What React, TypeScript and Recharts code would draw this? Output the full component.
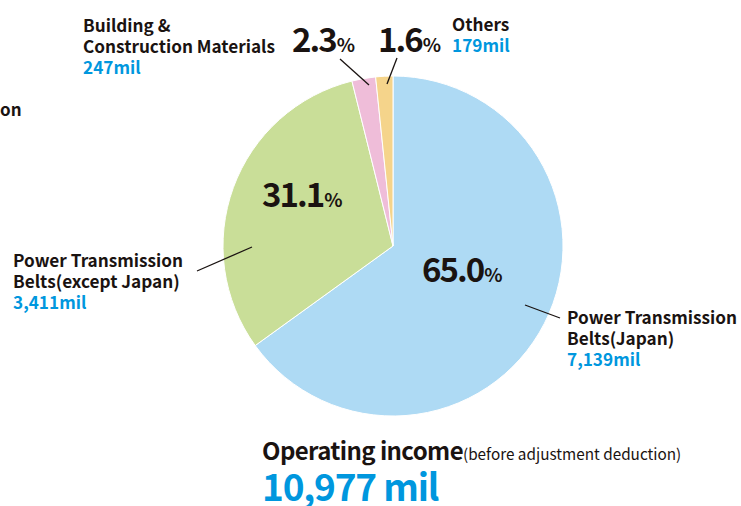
import { PieChart, Pie, Cell } from "recharts"

const segmentNames = [
  ["Power Transmission", "Belts(Japan)"],
  ["Power Transmission", "Belts(except Japan)"],
  ["Building &", "Construction Materials"],
  ["Others"],
]
const segmentValues = [7139, 3411, 247, 179]
const percentLabels = ["65.0", "31.1", "2.3", "1.6"]
const valueLabels = ["7,139mil", "3,411mil", "247mil", "179mil"]
const totalLabel = "10,977 mil"

const colors = ["#AEDAF4", "#C9DE98", "#EFBDD9", "#F5D48B"]
const FONT = "'Noto Sans CJK JP', 'Noto Sans', sans-serif"
const BLUE = "#0097DE"
const INK = "#1a1311"

const CX = 393
const CY = 246
const R = 170

// label placement, offsets from the pie centre
const layout = [
  { pct: [29, 36], name: [174, 78], line: [132, 59, 167, 72] },
  { pct: [-131, -39], name: [-380, 21], line: [-141, 1, -196, 25] },
  { pct: [-101, -194], name: [-310, -214], line: [-24, -161, -53, -187] },
  { pct: [-15, -194], name: [59, -215], line: [-6, -162, 4, -188] },
]

const data = segmentValues.map((value, i) => ({ name: segmentNames[i].join(" "), value }))

function renderLabel(props: any) {
  const { cx, cy, index } = props
  const l = layout[index]
  const names = segmentNames[index]
  return (
    <g key={`lbl-${index}`}>
      <line
        x1={cx + l.line[0]}
        y1={cy + l.line[1]}
        x2={cx + l.line[2]}
        y2={cy + l.line[3]}
        stroke={INK}
        strokeWidth={1.3}
      />
      <text x={cx + l.pct[0]} y={cy + l.pct[1]} fontFamily={FONT} fontWeight={700} fill={INK}>
        <tspan fontSize={33} letterSpacing={-2}>{percentLabels[index]}</tspan>
        <tspan fontSize={19} dx={1}>%</tspan>
      </text>
      <text x={cx + l.name[0]} y={cy + l.name[1]} fontFamily={FONT} fontWeight={700} fontSize={17.2} fill={INK}>
        {names.map((n, k) => (
          <tspan key={k} x={cx + l.name[0]} dy={k === 0 ? 0 : 21}>
            {n}
          </tspan>
        ))}
        <tspan x={cx + l.name[0]} dy={21} fill={BLUE}>
          {valueLabels[index]}
        </tspan>
      </text>
    </g>
  )
}

export default function App() {
  return (
    <div style={{ position: "fixed", left: 0, top: 0, width: 741, height: 506, background: "#fff" }}>
      <PieChart width={741} height={506} margin={{ top: 0, right: 0, bottom: 0, left: 0 }}>
        <Pie
          data={data}
          dataKey="value"
          cx={CX}
          cy={CY}
          outerRadius={R}
          startAngle={90}
          endAngle={-270}
          stroke="#fff"
          strokeWidth={1}
          label={renderLabel}
          labelLine={false}
          isAnimationActive={false}
        >
          {data.map((_, i) => (
            <Cell key={i} fill={colors[i]} />
          ))}
        </Pie>
        <text x={0} y={116} fontFamily={FONT} fontWeight={700} fontSize={17} fill={INK}>
          on
        </text>
        <text x={262} y={460} fontFamily={FONT} fill={INK}>
          <tspan fontSize={24} fontWeight={700} letterSpacing={-0.6}>Operating income</tspan>
          <tspan fontSize={15.3} fontWeight={400}>(before adjustment deduction)</tspan>
        </text>
        <text x={262} y={501} fontFamily={FONT} fontWeight={700} fontSize={37} letterSpacing={-1.2} fill={BLUE}>
          {totalLabel}
        </text>
      </PieChart>
    </div>
  )
}
